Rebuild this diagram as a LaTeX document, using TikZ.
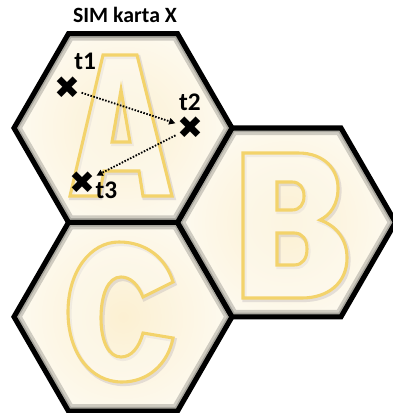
\documentclass[tikz,border=0pt]{standalone}
\usepackage{fontspec}
\setmainfont{Carlito}
\newfontfamily\symbfont{DejaVu Sans}
\usetikzlibrary{arrows.meta,positioning,calc}

\definecolor{hexcream}{HTML}{FDFAF0}
\definecolor{hexcore}{HTML}{FCF0D2}
\definecolor{lettergold}{HTML}{F3D36B}
\definecolor{lettershadow}{HTML}{8C8498}

\newcommand\hexr{109}
\newcommand\hexcell[1]{%
  \begin{scope}
    \clip (#1) +(0:\hexr) -- +(60:\hexr) -- +(120:\hexr) -- +(180:\hexr) -- +(240:\hexr) -- +(300:\hexr) -- cycle;
    \shade[inner color=hexcore, outer color=hexcream] (#1) circle[radius=\hexr];
    \draw[hexshadow] (#1) +(0:\hexr) -- +(60:\hexr) -- +(120:\hexr) -- +(180:\hexr) -- +(240:\hexr) -- +(300:\hexr) -- cycle;
    \draw[hexshadow, line width=6pt] (#1) +(0:\hexr) -- +(60:\hexr) -- +(120:\hexr) -- +(180:\hexr) -- +(240:\hexr) -- +(300:\hexr) -- cycle;
  \end{scope}
  \draw[hexborder] (#1) +(0:\hexr) -- +(60:\hexr) -- +(120:\hexr) -- +(180:\hexr) -- +(240:\hexr) -- +(300:\hexr) -- cycle;
}

\tikzset{
  hexborder/.style={draw=black, line width=3.6pt},
  hexshadow/.style={draw=black, line width=10pt, opacity=.18},
  lettershade/.style={draw=lettershadow, opacity=.22, line width=3pt, shift={(1.5,2)}},
  letterline/.style={draw=lettergold, line width=2.2pt, fill=hexcream, fill opacity=.5, even odd rule},
  cross/.style={font=\symbfont\fontsize{22}{22}\selectfont, inner sep=0pt},
  tlabel/.style={font=\bfseries\fontsize{18}{18}\selectfont, inner sep=1pt},
  track/.style={dash pattern=on 1.1pt off 1.1pt, line width=1.3pt, -{Triangle[length=4.5pt,width=4.5pt]}, shorten >=1pt, shorten <=1pt},
}

\begin{document}
\begin{tikzpicture}[x=0.025cm, y=-0.025cm]

  \useasboundingbox (0,0) rectangle (393,413);

  % cells
  \coordinate (hexA) at (123,128);
  \coordinate (hexB) at (286.5,222.4);
  \coordinate (hexC) at (123,316.8);
  \hexcell{hexC}
  \hexcell{hexB}
  \hexcell{hexA}

  % letters
  \foreach \s in {lettershade,letterline}{
    \draw[\s] (70,196) -- (103,55) -- (137,55) -- (172,196) -- (143,196) -- (139,171) -- (104,171) -- (99,196) -- cycle
      (121,90) -- (112,142) -- (130,142) -- cycle;
    \draw[\s] (243,153) -- (298,153) .. controls (325,153) and (338,170) .. (338,188)
      .. controls (338,205) and (330,215) .. (320,220)
      .. controls (337,226) and (347,240) .. (347,258)
      .. controls (347,283) and (328,298) .. (302,298) -- (243,298) -- cycle
      (277,182) -- (292,182) .. controls (300,182) and (304,188) .. (304,196)
      .. controls (304,204) and (300,210) .. (292,210) -- (277,210) -- cycle
      (277,233) -- (294,233) .. controls (303,233) and (307,240) .. (307,249)
      .. controls (307,258) and (303,265) .. (294,265) -- (277,265) -- cycle;
    \draw[\s] (173,282) -- (143,297) .. controls (138,284) and (130,277) .. (121,277)
      .. controls (108,277) and (101,295) .. (101,318)
      .. controls (101,342) and (109,357) .. (121,357)
      .. controls (131,357) and (139,348) .. (143,333) -- (173,338)
      .. controls (168,364) and (148,382) .. (122,382)
      .. controls (90,382) and (68,352) .. (68,312)
      .. controls (68,272) and (90,242) .. (119,242)
      .. controls (146,242) and (166,258) .. (173,282) -- cycle;
  }

  \node[font=\bfseries\fontsize{15.5}{16}\selectfont] (title) at (125,15) {SIM karta X};

  % positions
  \node[cross] (x1) at (67,88) {✖};
  \node[cross] (x2) at (190,128) {✖};
  \node[cross] (x3) at (82,183) {✖};

  \node[tlabel, above right=12pt and 4pt of x1.center] (t1) {t1};
  \node[tlabel, above=11pt of x2.center] (t2) {t2};
  \node[tlabel, right=8.5pt of x3.center, yshift=-5pt] (t3) {t3};

  \draw[track] (x1) -- (x2);
  \draw[track] (x2) -- (x3);

\end{tikzpicture}
\end{document}
